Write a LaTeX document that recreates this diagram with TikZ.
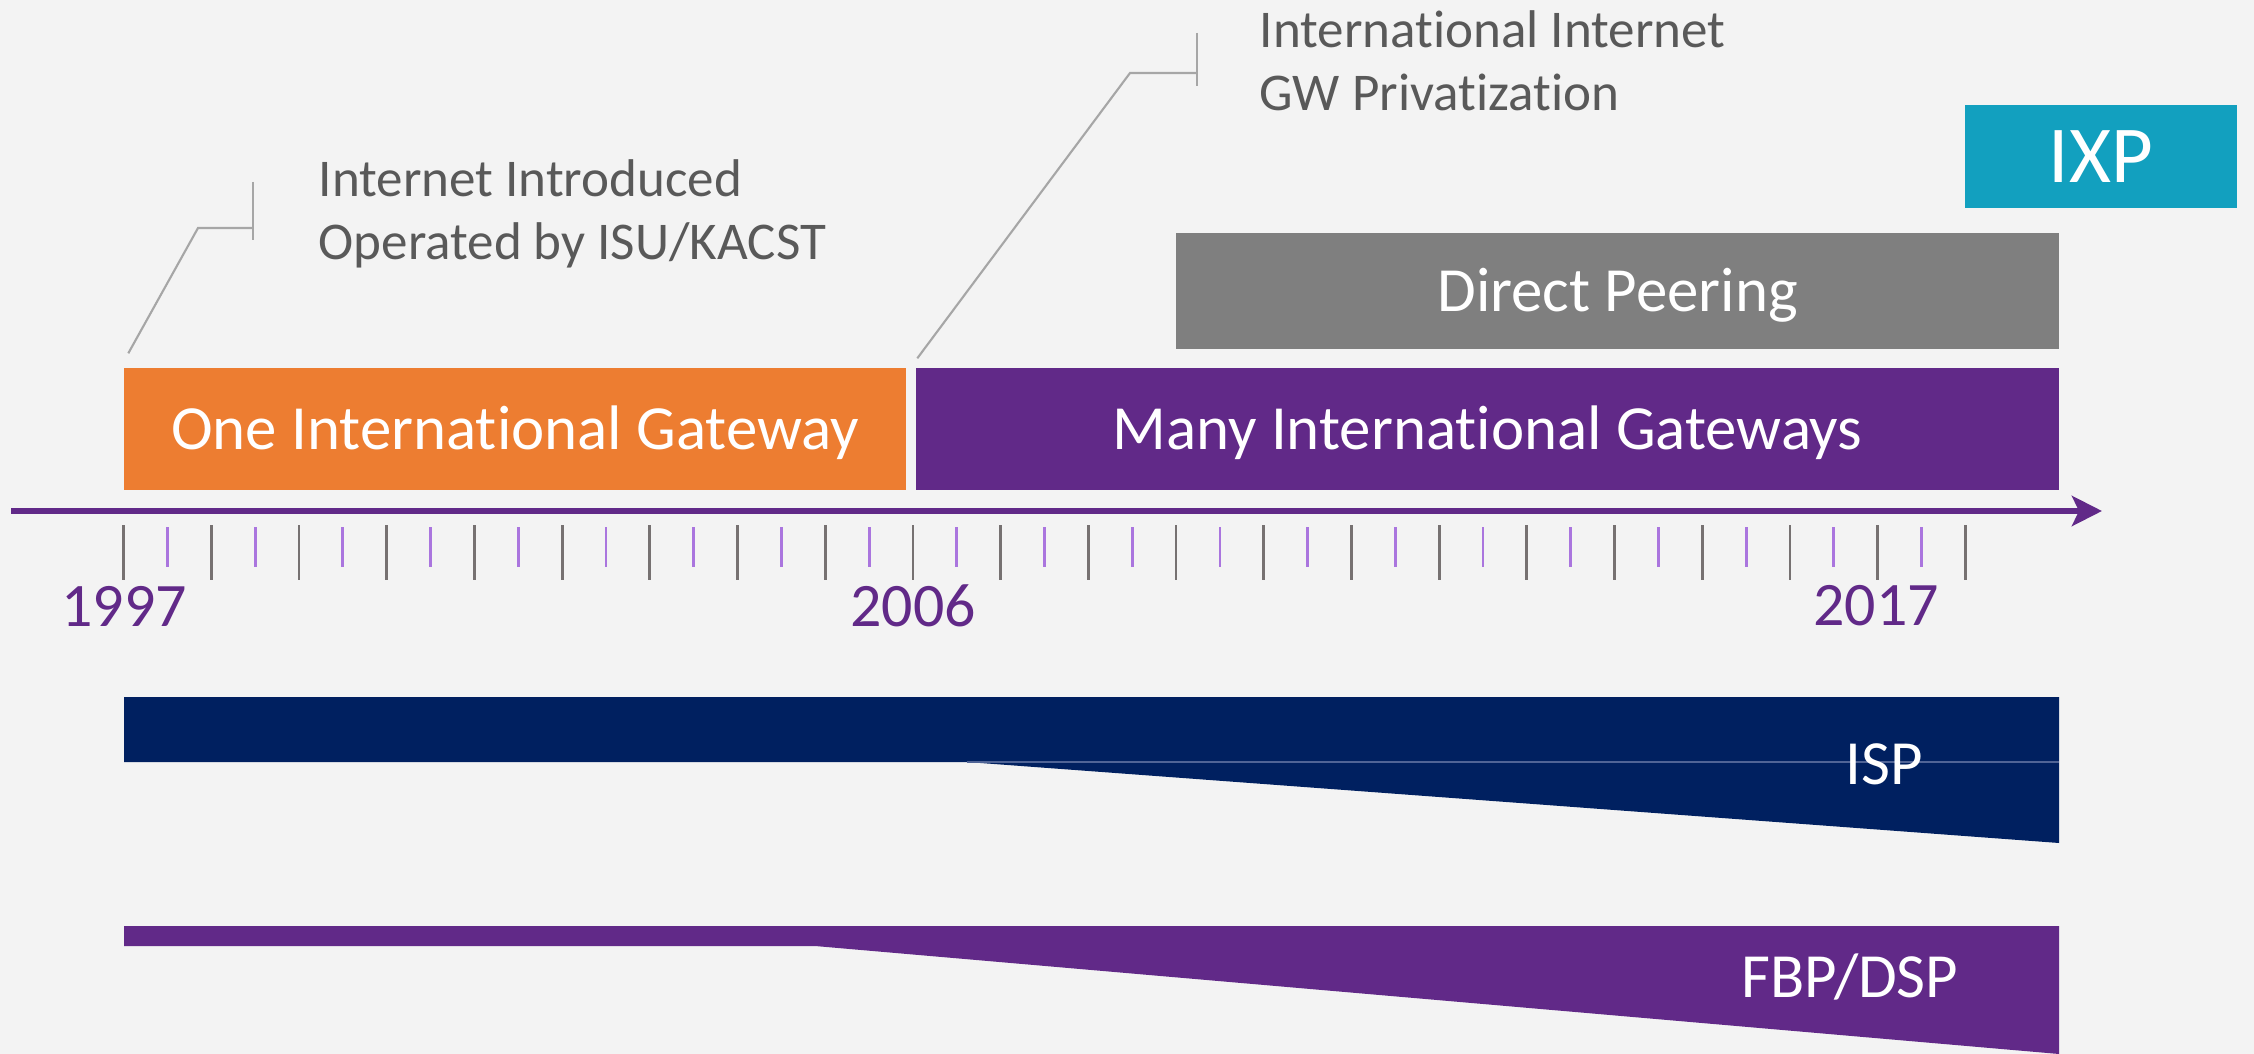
\documentclass[tikz,border=0pt]{standalone}
\usepackage{fontspec}
\setmainfont{Carlito}[Ligatures=NoCommon]
\usetikzlibrary{arrows.meta,positioning}
\definecolor{bggray}{RGB}{243,243,243}
\definecolor{tlpurple}{RGB}{97,41,136}
\definecolor{tlorange}{RGB}{237,125,49}
\definecolor{peergray}{RGB}{127,127,127}
\definecolor{ixpteal}{RGB}{18,160,191}
\definecolor{ispblue}{RGB}{0,32,96}
\definecolor{notegray}{RGB}{89,89,89}
\definecolor{leadgray}{RGB}{166,166,166}
\definecolor{tickgray}{RGB}{118,113,113}
\definecolor{tickpurple}{RGB}{170,117,222}

\begin{document}
\begin{tikzpicture}[
    bar/.style={fill=#1, text=white, inner sep=0pt, minimum height=1.22cm,
      font=\fontsize{17.9}{21}\selectfont, text height=11.5pt, text depth=0pt},
    tag/.style={text=white, inner sep=0pt,
      font=\fontsize{17.9}{21}\selectfont, text height=11.5pt, text depth=0pt},
    note/.style={text=notegray, align=left, inner sep=0pt, anchor=west,
      font=\fontsize{15.1}{17.9}\selectfont},
    lead/.style={draw=leadgray, line width=0.6pt},
    year/.style={text=tlpurple, inner sep=0pt, font=\fontsize{17.6}{20}\selectfont},
    axis/.style={draw=tlpurple, line width=0.06cm,
      -{Stealth[length=0.30cm,width=0.30cm,inset=0.07cm]}},
    yeartick/.style={draw=tickgray, line width=0.8pt},
    halftick/.style={draw=tickpurple, line width=0.8pt}
  ]
  \fill[bggray] (0,0) rectangle (22.54,-10.54);

  \node[bar=ixpteal, minimum width=2.72cm, minimum height=1.03cm,
    font=\fontsize{23}{27}\selectfont, text height=14.8pt] (ixp) at (21.01,-1.565) {IXP};
  \node[bar=peergray, minimum width=8.83cm, minimum height=1.16cm] (peer) at (16.175,-2.91) {Direct Peering};
  \node[bar=tlorange, minimum width=7.82cm] (one) at (5.15,-4.29) {One International Gateway};
  \node[bar=tlpurple, minimum width=11.43cm] (many) at (14.875,-4.29) {Many International Gateways};

  \node[note] (intro) at (3.18,-2.14) {Internet Introduced\\Operated by ISU/KACST};
  \node[note] (priv) at (12.59,-0.61) {International Internet\\GW Privatization};

  \coordinate (k1) at ([shift={(0.05,0.14)}]one.north west);
  \coordinate (e1) at (2.53,-2.28);
  \draw[lead] (k1) -- (1.98,-2.28) -- (e1);
  \draw[lead] ([yshift=0.46cm]e1) -- ([yshift=-0.12cm]e1);
  \coordinate (k2) at ([shift={(0.02,0.09)}]many.north west);
  \coordinate (e2) at (11.97,-0.73);
  \draw[lead] (k2) -- (11.30,-0.73) -- (e2);
  \draw[lead] ([yshift=0.40cm]e2) -- ([yshift=-0.13cm]e2);

  \coordinate (a0) at (0.11,-5.11);
  \coordinate (a1) at (21.02,-5.11);
  \draw[axis] (a0) -- (a1);
  \foreach \i in {0,...,21}
    \draw[yeartick] ({1.236+0.877*\i},-5.25) -- ++(0,-0.55);
  \foreach \i in {0,...,20}
    \draw[halftick] ({1.675+0.877*\i},-5.27) -- ++(0,-0.40);

  \node[year] (y1997) at (1.24,-6.06) {1997};
  \node[year] (y2006) at (9.13,-6.06) {2006};
  \node[year] (y2017) at (18.76,-6.06) {2017};

  \fill[ispblue] (1.24,-6.97) -- (20.59,-6.97) -- (20.59,-8.43) -- (9.67,-7.62) -- (1.24,-7.62) -- cycle;
  \draw[draw={rgb,255:red,80;green,100;blue,150}, line width=0.3pt] (9.67,-7.62) -- (20.59,-7.62);
  \node[tag] (isp) at (18.84,-7.64) {ISP};

  \fill[tlpurple] (1.24,-9.26) -- (20.59,-9.26) -- (20.59,-10.54) -- (8.15,-9.46) -- (1.24,-9.46) -- cycle;
  \node[tag] (fbp) at (18.50,-9.77) {FBP/DSP};
\end{tikzpicture}
\end{document}
